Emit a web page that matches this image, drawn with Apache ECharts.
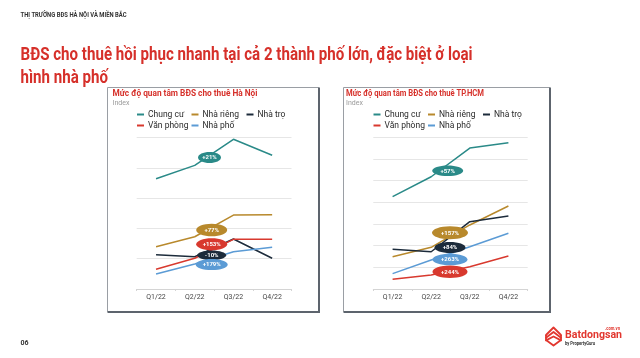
<!DOCTYPE html>
<html><head><meta charset="utf-8">
<script src="https://cdn.jsdelivr.net/npm/echarts@6/dist/echarts.min.js"></script>
<style>html,body{margin:0;padding:0;background:#fff}#c{width:640px;height:358px}</style>
</head><body><div id="c"></div>
<script>
// ---- data ----
const categories = ['Q1/22', 'Q2/22', 'Q3/22', 'Q4/22'];
const seriesNames = ['Chung cư', 'Nhà riêng', 'Nhà trọ', 'Văn phòng', 'Nhà phố'];
// Hà Nội (index)
const hnChungCu  = [72.8, 81.6, 98.8, 88.3];
const hnNhaRieng = [27.9, 34.5, 48.8, 49.0];
const hnNhaTro   = [22.6, 21.3, 33.0, 20.3];
const hnVanPhong = [13.0, 20.3, 32.8, 32.8];
const hnNhaPho   = [9.9, 16.5, 24.6, 27.5];
// TP.HCM (index)
const hcmChungCu  = [85.2, 103.6, 130.1, 135.0];
const hcmNhaRieng = [29.8, 38.5, 59.1, 76.6];
const hcmNhaTro   = [36.6, 34.4, 62.1, 67.4];
const hcmVanPhong = [8.9, 12.9, 20.6, 30.5];
const hcmNhaPho   = [14.2, 26.8, 39.0, 51.4];
// growth labels
const hnBadges  = ['+21%', '+77%', '+153%', '-10%', '+179%'];
const hcmBadges = ['+57%', '+157%', '+84%', '+263%', '+244%'];

const colors = {
  'Chung cư': '#2a8a88',
  'Nhà riêng': '#b8892c',
  'Nhà trọ': '#1c2b3b',
  'Văn phòng': '#d8392e',
  'Nhà phố': '#5b9bd5'
};
const FONT = 'Roboto, "Noto Sans", sans-serif';

const ctx = document.createElement('canvas').getContext('2d');
function fitScale(text, font, target) {
  ctx.font = font;
  return target / ctx.measureText(text).width;
}

const chart = echarts.init(document.getElementById('c'), null, {renderer: 'canvas', width: 640, height: 358});

const hnData = [hnChungCu, hnNhaRieng, hnNhaTro, hnVanPhong, hnNhaPho];
const hcmData = [hcmChungCu, hcmNhaRieng, hcmNhaTro, hcmVanPhong, hcmNhaPho];

const series = [];
[hnData, hcmData].forEach((set, gi) => {
  set.forEach((vals, i) => {
    series.push({
      name: seriesNames[i], type: 'line', xAxisIndex: gi, yAxisIndex: gi,
      data: vals, symbol: 'none', silent: true,
      lineStyle: {width: 1.5, color: colors[seriesNames[i]]},
      itemStyle: {color: colors[seriesNames[i]]},
      z: i === 0 ? 3 : 2
    });
  });
});

// legend: each item placed in a fixed column
const legendCols = [
  {n: 0, dx: 0, row: 0}, {n: 1, dx: 54.5, row: 0}, {n: 2, dx: 109.5, row: 0},
  {n: 3, dx: 0, row: 1}, {n: 4, dx: 54.5, row: 1}
];
const legendOrigins = [{x: 137, y: 110}, {x: 373.5, y: 110}];
const legends = [];
legendOrigins.forEach(o => {
  legendCols.forEach(c => {
    legends.push({
      data: [seriesNames[c.n]], left: o.x + c.dx, top: o.y + c.row * 11,
      padding: 0, itemWidth: 7, itemHeight: 2, icon: 'rect',
      textStyle: {fontSize: 8.5, color: '#2b2b2b', fontFamily: FONT, padding: [0, 0, 0, -1]},
      selectedMode: false
    });
  });
});

function makeX(gi) {
  return {
    type: 'category', gridIndex: gi, data: categories,
    axisLine: {lineStyle: {color: '#d4d4d4', width: 1}},
    axisTick: {show: true, length: 2, lineStyle: {color: '#d4d4d4'}},
    axisLabel: {fontSize: 7, color: '#444', fontFamily: FONT, margin: 5}
  };
}
function makeY(gi, max) {
  return {
    type: 'value', gridIndex: gi, min: 0, max: max, interval: 20,
    axisLabel: {show: false}, axisLine: {show: false}, axisTick: {show: false},
    splitLine: {lineStyle: {color: '#e6e6e6', width: 1}}
  };
}

// badges (annotation positions in pixels)
const hnBadgePos = [
  {cx: 209.5, cy: 157.5, rx: 11.5, ry: 5.5, c: 'Chung cư'},
  {cx: 211.7, cy: 230, rx: 15.5, ry: 6.3, c: 'Nhà riêng'},
  {cx: 211.7, cy: 244.3, rx: 15.5, ry: 6, c: 'Văn phòng'},
  {cx: 211.7, cy: 255.3, rx: 14.5, ry: 4.8, c: 'Nhà trọ'},
  {cx: 211.7, cy: 264.5, rx: 16, ry: 5.6, c: 'Nhà phố'}
];
const hcmBadgePos = [
  {cx: 447.7, cy: 170.7, rx: 15.5, ry: 5.3, c: 'Chung cư'},
  {cx: 450, cy: 232.7, rx: 18, ry: 6.5, c: 'Nhà riêng'},
  {cx: 450, cy: 247.5, rx: 15.5, ry: 5.5, c: 'Nhà trọ'},
  {cx: 450, cy: 259.5, rx: 17.5, ry: 5.8, c: 'Nhà phố'},
  {cx: 450, cy: 271.7, rx: 17.5, ry: 6.2, c: 'Văn phòng'}
];
const graphics = [];
function badge(p, label) {
  graphics.push({type: 'ellipse', z: 100, shape: {cx: p.cx, cy: p.cy, rx: p.rx, ry: p.ry}, style: {fill: colors[p.c]}});
  graphics.push({type: 'text', z: 101, style: {text: label, x: p.cx, y: p.cy + 0.3, textAlign: 'center', textVerticalAlign: 'middle', fill: '#fff', font: 'bold 6px ' + FONT}});
}
hnBadgePos.forEach((p, i) => badge(p, hnBadges[i]));
hcmBadgePos.forEach((p, i) => badge(p, hcmBadges[i]));

// panel frames
function frame(x, y, w, h) {
  graphics.push({type: 'rect', z: 1, shape: {x: x, y: y, width: w, height: h}, style: {fill: 'none', stroke: '#9a9ea4', lineWidth: 1}});
  graphics.push({type: 'line', z: 1, shape: {x1: x + w + 0.5, y1: y, x2: x + w + 0.5, y2: y + h + 1.5}, style: {stroke: '#5d646d', lineWidth: 2}});
  graphics.push({type: 'line', z: 1, shape: {x1: x, y1: y + h + 0.5, x2: x + w + 1.5, y2: y + h + 0.5}, style: {stroke: '#5d646d', lineWidth: 2}});
}
frame(107.5, 87.5, 211, 224);
frame(343.5, 87.5, 206, 224);

// texts
function txt(t, x, y, font, fill, target, base) {
  const s = target ? fitScale(t, font, target) : 1;
  graphics.push({type: 'text', z: 50, x: x, y: y, scaleX: s, style: {text: t, x: 0, y: 0, font: font, fill: fill, textVerticalAlign: base || 'middle'}});
}
txt('THỊ TRƯỜNG BĐS HÀ NỘI VÀ MIỀN BẮC', 20.5, 15.5, 'bold 6.5px ' + FONT, '#333', 106);
txt('BĐS cho thuê hồi phục nhanh tại cả 2 thành phố lớn, đặc biệt ở loại', 20.5, 45.3, 'bold 19px ' + FONT, '#d6302a', 452, 'alphabetic');
txt('hình nhà phố', 20.5, 68.6, 'bold 19px ' + FONT, '#d6302a', null, 'alphabetic');
graphics[graphics.length - 1].scaleX = graphics[graphics.length - 2].scaleX;

txt('Mức độ quan tâm BĐS cho thuê Hà Nội', 112.5, 94, 'bold 8.5px ' + FONT, '#d6302a', 145);
txt('Index', 112.5, 103.3, '7px ' + FONT, '#9a9a9a');
txt('Mức độ quan tâm BĐS cho thuê TP.HCM', 346, 94, 'bold 8.5px ' + FONT, '#d6302a', 138);
txt('Index', 346, 103.3, '7px ' + FONT, '#9a9a9a');
txt('06', 20.5, 343.5, 'bold 7px ' + FONT, '#333');

// logo
const red = '#e2372f';
[0, 4.5, 9].forEach(d => {
  graphics.push({type: 'polyline', z: 50, shape: {points: [[546, 335 + d * 0.6], [553.5, 327.5 + d], [561, 335 + d * 0.6]]}, style: {stroke: red, lineWidth: 1.8, fill: 'none', lineJoin: 'round', lineCap: 'round'}});
});
graphics.push({type: 'polyline', z: 50, shape: {points: [[546, 335], [546, 340], [553.5, 345.5], [561, 340], [561, 335]]}, style: {stroke: red, lineWidth: 1.8, fill: 'none', lineJoin: 'round'}});
txt('Batdongsan', 565, 335.5, 'bold 11px ' + FONT, red, 57);
txt('.com.vn', 605, 329, 'bold 4.5px ' + FONT, red, 15);
txt('by PropertyGuru', 565, 343.5, 'bold 5px ' + FONT, '#333', 30);

chart.setOption({
  animation: false,
  backgroundColor: '#fff',
  legend: legends,
  grid: [
    {left: 136.7, top: 137.5, width: 154.8, height: 151.5},
    {left: 373.3, top: 137.3, width: 154.4, height: 151.7}
  ],
  xAxis: [makeX(0), makeX(1)],
  yAxis: [makeY(0, 100), makeY(1, 140)],
  series: series,
  graphic: {elements: graphics}
});
</script></body></html>
